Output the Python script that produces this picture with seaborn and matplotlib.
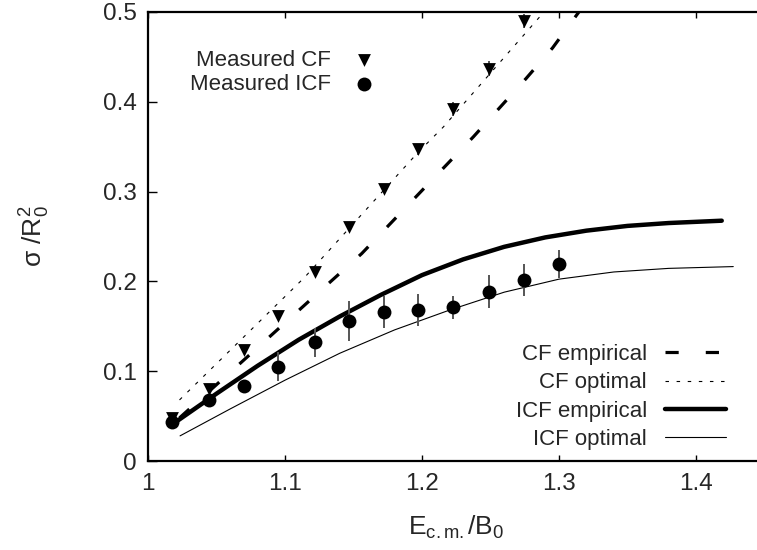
# Fusion cross sections (CF / ICF) vs reduced energy, gnuplot-style figure
import matplotlib
matplotlib.use("Agg")
import matplotlib.pyplot as plt
import seaborn as sns
import pandas as pd
from matplotlib.ticker import FuncFormatter, MultipleLocator

# measured points (shared energies)
e_meas = [1.0175, 1.0445, 1.070, 1.095, 1.122, 1.147, 1.172, 1.197, 1.2229, 1.2489, 1.2742, 1.300]
cf_meas = [0.048, 0.080, 0.124, 0.161, 0.211, 0.261, 0.303, 0.347, 0.392, 0.437, 0.490]
cf_err = [0.004, 0.004, 0.004, 0.004, 0.005, 0.005, 0.005, 0.006, 0.008, 0.008, 0.008]
icf_meas = [0.043, 0.068, 0.084, 0.105, 0.132, 0.156, 0.166, 0.168, 0.171, 0.1886, 0.2016, 0.219]
icf_err = [0.005, 0.005, 0.005, 0.016, 0.016, 0.022, 0.018, 0.018, 0.0124, 0.018, 0.018, 0.0156]

# model curves
cf_emp_x = [1.023, 1.066, 1.132, 1.156, 1.2155, 1.2375, 1.276, 1.2953, 1.3145]
cf_emp_y = [0.048, 0.107, 0.198, 0.231, 0.326, 0.361, 0.426, 0.460, 0.500]
cf_opt_x = [1.023, 1.1146, 1.1973, 1.2156, 1.2890]
cf_opt_y = [0.068, 0.205, 0.344, 0.372, 0.500]
icf_emp_x = [1.017, 1.05, 1.08, 1.11, 1.14, 1.17, 1.20, 1.23, 1.26, 1.29, 1.32, 1.35, 1.38, 1.4188]
icf_emp_y = [0.040, 0.075, 0.106, 0.135, 0.161, 0.185, 0.207, 0.2245, 0.2385, 0.249, 0.2565, 0.2618, 0.265, 0.2676]
icf_opt_x = [1.0234, 1.06, 1.10, 1.14, 1.18, 1.22, 1.26, 1.30, 1.34, 1.38, 1.4272]
icf_opt_y = [0.028, 0.058, 0.090, 0.120, 0.146, 0.168, 0.188, 0.2025, 0.2105, 0.2145, 0.2165]

sns.set_theme(style="ticks")
plt.rcParams['font.family'] = ['Liberation Sans', 'DejaVu Sans']
plt.rcParams['mathtext.fontset'] = 'custom'
plt.rcParams['mathtext.rm'] = 'Liberation Sans'
plt.rcParams['mathtext.it'] = 'Liberation Sans'
plt.rcParams['lines.scale_dashes'] = False

fig = plt.figure(figsize=(7.57, 5.5), dpi=100)
ax = fig.add_axes([148 / 757, 89 / 550, 616.5 / 757, 449 / 550])

# curves
sns.lineplot(x=cf_emp_x, y=cf_emp_y, ax=ax, color='black', lw=2.3, sort=False,
             estimator=None, linestyle=(0, (9.5, 19.5)), label='CF empirical')
sns.lineplot(x=cf_opt_x, y=cf_opt_y, ax=ax, color='black', lw=0.8, sort=False,
             estimator=None, linestyle=(0, (2.5, 5.5)), label='CF optimal')
sns.lineplot(x=icf_emp_x, y=icf_emp_y, ax=ax, color='black', lw=3.2, sort=False,
             estimator=None, label='ICF empirical')
sns.lineplot(x=icf_opt_x, y=icf_opt_y, ax=ax, color='black', lw=0.8, sort=False,
             estimator=None, label='ICF optimal')
line_handles, line_labels = ax.get_legend_handles_labels()
ax.get_legend().remove()

# error bars then markers
ax.errorbar(e_meas[:len(cf_meas)], cf_meas, yerr=cf_err, fmt='none', ecolor='#555555', elinewidth=1.4, zorder=3)
ax.errorbar(e_meas, icf_meas, yerr=icf_err, fmt='none', ecolor='#555555', elinewidth=1.4, zorder=3)
cf_df = pd.DataFrame({'e': e_meas[:len(cf_meas)], 's': cf_meas})
icf_df = pd.DataFrame({'e': e_meas, 's': icf_meas})
sc1 = ax.scatter(cf_df['e'], cf_df['s'], marker='v', s=85, color='black', linewidths=0, zorder=4, label='Measured CF')
sc2 = ax.scatter(icf_df['e'], icf_df['s'], marker='o', s=100, color='black', linewidths=0, zorder=4, label='Measured ICF')

ax.set_xlim(1.0, 1.45)
ax.set_ylim(0, 0.5)
ax.xaxis.set_major_locator(MultipleLocator(0.1))
ax.yaxis.set_major_locator(MultipleLocator(0.1))
fmt = FuncFormatter(lambda v, p: f"{v:g}")
ax.xaxis.set_major_formatter(fmt)
ax.yaxis.set_major_formatter(fmt)
ax.tick_params(axis='both', direction='in', labelsize=17.5, color='black', width=1.0)
ax.tick_params(axis='x', length=4.5, pad=9, top=True)
ax.tick_params(axis='y', length=6.3, pad=8)
for sp in ax.spines.values():
    sp.set_linewidth(1.6)
    sp.set_color('black')
ax.spines['right'].set_visible(False)

ax.set_xlabel(r'$\mathregular{E_{c.m.}/B_0}$', fontsize=19, labelpad=13)
ax.set_ylabel(r'σ /$\mathregular{R_0^2}$', fontsize=19, labelpad=37)

leg1 = ax.legend([sc1, sc2], ['Measured CF', 'Measured ICF'], markerfirst=False, frameon=False,
                 fontsize=16, loc='upper right', bbox_to_anchor=(381 / 757, 1 - 50 / 550),
                 bbox_transform=fig.transFigure, borderpad=0, borderaxespad=0,
                 handlelength=1.5, handletextpad=0.75, labelspacing=0.12, scatterpoints=1)
ax.add_artist(leg1)
ax.legend(line_handles, line_labels, markerfirst=False, frameon=False, fontsize=16,
          loc='lower right', bbox_to_anchor=(726 / 757, 1 - 450 / 550),
          bbox_transform=fig.transFigure, borderpad=0, borderaxespad=0,
          handlelength=2.75, handletextpad=0.8, labelspacing=0.33)

fig.savefig('out.png', dpi=100)
